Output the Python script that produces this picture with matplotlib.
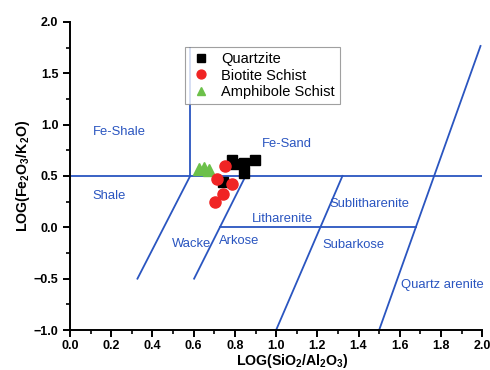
import matplotlib
matplotlib.use("Agg")
import matplotlib.pyplot as plt
from matplotlib.ticker import MultipleLocator

plt.rcParams['font.family'] = ['Liberation Sans', 'DejaVu Sans']
plt.rcParams['mathtext.fontset'] = 'custom'
plt.rcParams['mathtext.bf'] = 'Liberation Sans:bold'
plt.rcParams['mathtext.rm'] = 'Liberation Sans:bold'
plt.rcParams['mathtext.default'] = 'bf'

# sample data: log(SiO2/Al2O3), log(Fe2O3/K2O)
qtz_x = [0.785, 0.796, 0.846, 0.898, 0.846, 0.744]
qtz_y = [0.655, 0.616, 0.629, 0.655, 0.532, 0.444]
bio_x = [0.752, 0.712, 0.788, 0.744, 0.704]
bio_y = [0.597, 0.467, 0.422, 0.321, 0.249]
amp_x = [0.626, 0.650, 0.675]
amp_y = [0.568, 0.578, 0.558]

# classification field boundaries (Herron 1988)
bounds = [
    ([0.0, 2.0], [0.5, 0.5]),
    ([0.58, 0.58], [0.5, 1.75]),
    ([0.327, 0.583], [-0.5, 0.5]),
    ([0.602, 0.852], [-0.5, 0.5]),
    ([0.727, 1.678], [0.0, 0.0]),
    ([1.0, 1.322], [-1.0, 0.5]),
    ([1.5, 1.992], [-1.0, 1.765]),
]
field_names = ["Fe-Shale", "Fe-Sand", "Shale", "Wacke", "Litharenite",
               "Sublitharenite", "Arkose", "Subarkose", "Quartz arenite"]
field_x = [0.11, 0.93, 0.11, 0.495, 0.88, 1.26, 0.723, 1.223, 1.607]
field_y = [0.93, 0.81, 0.305, -0.163, 0.08, 0.227, -0.133, -0.172, -0.562]

blue = "#2a55c0"

fig = plt.figure(figsize=(4.9, 3.7), dpi=100)
ax = fig.add_axes([0.143, 0.108, 0.841, 0.833])

for bx, by in bounds:
    ax.plot(bx, by, color=blue, lw=1.3, zorder=1)

for name, tx, ty in zip(field_names, field_x, field_y):
    ax.text(tx, ty, name, color=blue, fontsize=9.4, va="center", ha="left")

ax.plot(amp_x, amp_y, "^", color="#6cc04a", ms=8, ls="none", label="Amphibole Schist", zorder=3)
ax.plot(qtz_x, qtz_y, "s", color="black", ms=7, ls="none", label="Quartzite", zorder=3)
ax.plot(bio_x, bio_y, "o", color="#f02424", ms=8, ls="none", label="Biotite Schist", zorder=4)

h, l = ax.get_legend_handles_labels()
order = [1, 2, 0]
leg = ax.legend([h[i] for i in order], [l[i] for i in order],
                loc="upper left", bbox_to_anchor=(0.262, 0.941),
                fontsize=10.5, frameon=True, fancybox=False,
                markerscale=0.8, handletextpad=0.6, borderpad=0.35,
                labelspacing=0.15, handlelength=1.5)
leg.get_frame().set_edgecolor("#888888")
leg.get_frame().set_linewidth(0.8)

ax.set_xlim(0, 2.0)
ax.set_ylim(-1.0, 2.0)
ax.xaxis.set_major_locator(MultipleLocator(0.2))
ax.xaxis.set_minor_locator(MultipleLocator(0.1))
ax.yaxis.set_major_locator(MultipleLocator(0.5))
ax.yaxis.set_minor_locator(MultipleLocator(0.25))
ax.tick_params(which="major", direction="out", length=5, width=1.4, labelsize=9)
ax.tick_params(which="minor", direction="out", length=3, width=1.2)
ax.tick_params(axis="x", which="major", pad=2)
for lab in ax.get_xticklabels() + ax.get_yticklabels():
    lab.set_fontweight("bold")

for side in ["top", "right"]:
    ax.spines[side].set_visible(False)
for side in ["left", "bottom"]:
    ax.spines[side].set_linewidth(1.4)

ax.set_xlabel("LOG(SiO$_2$/Al$_2$O$_3$)", fontsize=10.2, fontweight="bold")
ax.set_ylabel("LOG(Fe$_2$O$_3$/K$_2$O)", fontsize=10.2, fontweight="bold")
ax.xaxis.set_label_coords(0.54, -0.072)
ax.yaxis.set_label_coords(-0.093, 0.5)

fig.savefig("out.png", dpi=100)
